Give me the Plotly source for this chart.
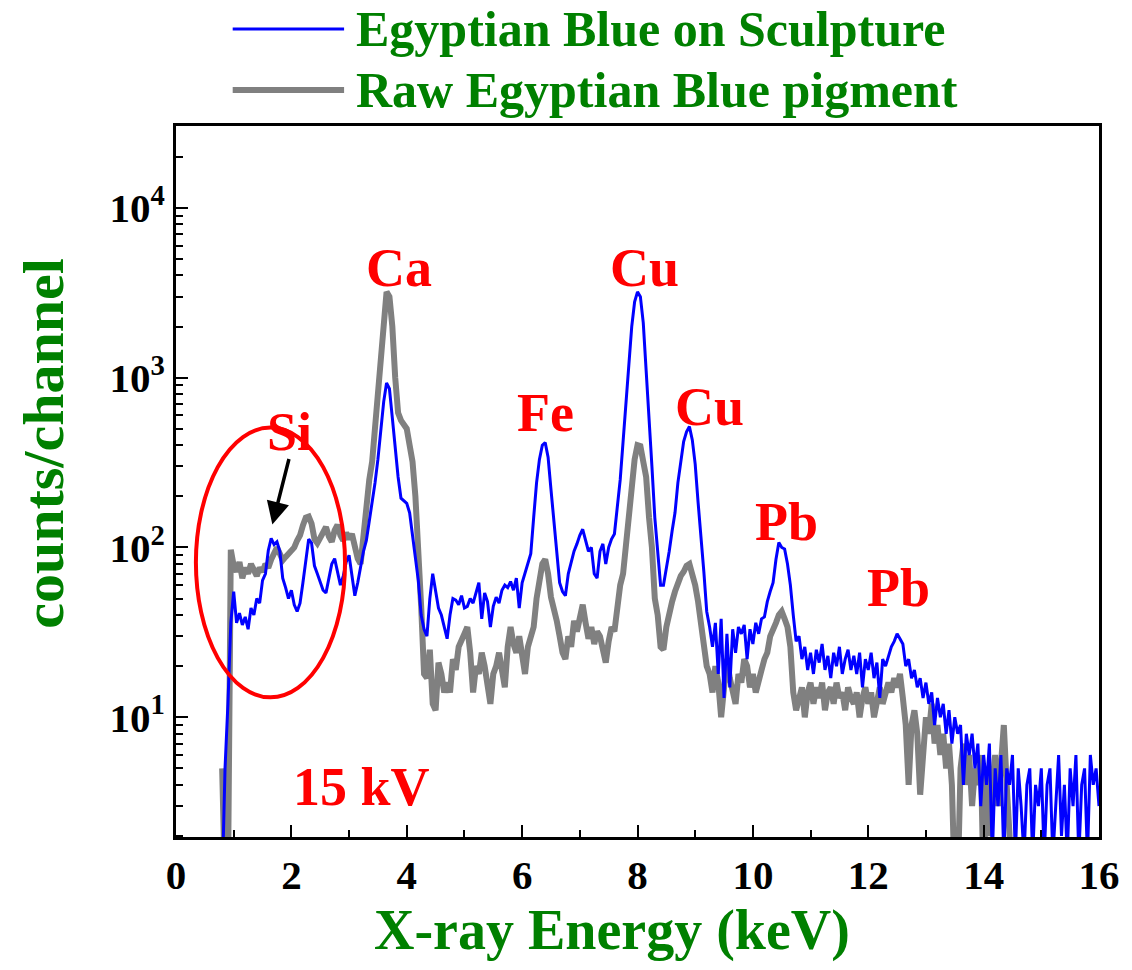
import numpy as np
import plotly.graph_objects as go

# Channel energies of the spectra (keV)
energy_start_kev = 0.80
energy_step_kev = 0.05

# Counts per channel, Egyptian Blue on the sculpture (1 keV per row)
sculpture_counts = [
    1, 5, 12, 36, 55, 36, 41, 35, 39, 33, 44, 40, 50, 47, 64, 70, 96, 113, 104, 108,
    95, 66, 58, 50, 56, 46, 42, 47, 62, 82, 112, 106, 78, 70, 62, 56, 54, 66, 80, 86,
    72, 60, 68, 82, 90, 70, 52, 62, 76, 95, 110, 140, 185, 240, 330, 480, 720, 930, 860, 580,
    390, 260, 195, 188, 182, 160, 120, 90, 64, 40, 33, 30, 50, 70, 55, 44, 40, 34, 29, 40,
    50, 49, 46, 52, 44, 45, 50, 47, 55, 62, 38, 54, 48, 34, 45, 51, 47, 56, 60, 58,
    63, 56, 66, 44, 62, 70, 80, 92, 150, 240, 330, 400, 415, 340, 220, 140, 95, 62, 55, 52,
    70, 82, 95, 105, 118, 128, 112, 95, 100, 70, 66, 95, 105, 80, 100, 112, 120, 170, 250, 420,
    700, 1200, 2000, 2800, 3200, 3000, 2100, 1100, 600, 300, 150, 90, 60, 60, 75, 95, 125, 160, 240, 330,
    420, 480, 515, 430, 310, 185, 120, 72, 42, 34, 26, 36, 18, 38, 13, 31, 15, 33, 24, 34,
    31, 35, 22, 33, 27, 36, 31, 38, 39, 48, 55, 62, 85, 107, 100, 98, 80, 60, 40, 28,
    30, 22, 26, 19, 24, 18, 25, 21, 27, 19, 23, 17, 24, 20, 26, 18, 22, 25, 19, 23,
    18, 24, 15, 22, 19, 24, 17, 21, 13, 22, 20, 23, 26, 28, 31, 29, 27, 20, 22, 17,
    19, 15, 17, 13, 16, 12, 14, 9, 13, 10, 12, 8, 11, 7, 10, 8, 9, 4, 8, 6,
    8, 5, 7, 3, 6, 4, 7, 1.5, 5, 3, 6, 1.5, 5, 4, 6, 1.5, 5, 3, 1.5, 4,
    5, 1.5, 4, 3, 5, 1.5, 4, 5, 1.5, 3, 6, 2, 4, 1.5, 5, 3, 6, 1.5, 4, 5,
    1.5, 6, 4, 5, 3,
]

# Counts per channel, raw Egyptian Blue pigment (1 keV per row)
raw_pigment_counts = [
    5, 1, 1, 97, 78, 72, 82, 66, 76, 70, 80, 72, 68, 76, 72, 80, 76, 85, 95, 100,
    92, 84, 88, 92, 96, 100, 110, 118, 135, 150, 152, 138, 112, 106, 114, 124, 132, 116, 108, 126,
    136, 118, 110, 122, 112, 120, 98, 86, 80, 120, 170, 250, 320, 520, 850, 1500, 2400, 3200, 3000, 2000,
    1000, 620, 560, 530, 500, 400, 320, 200, 110, 45, 18, 17, 25, 12, 11, 21, 18, 14, 16, 14,
    22, 19, 26, 28, 31, 34, 24, 14, 20, 18, 24, 20, 16, 12, 18, 20, 24, 19, 15, 26,
    34, 27, 24, 30, 22, 18, 26, 30, 34, 50, 65, 80, 85, 70, 51, 44, 37, 30, 24, 22,
    30, 26, 37, 32, 40, 46, 36, 29, 34, 27, 32, 30, 25, 21, 28, 34, 32, 45, 60, 70,
    100, 150, 240, 330, 400, 395, 320, 260, 150, 100, 50, 40, 26, 25, 34, 42, 48, 55, 62, 68,
    72, 78, 80, 70, 60, 48, 35, 26, 20, 18, 14, 20, 16, 10, 14, 22, 17, 14, 12, 18,
    16, 22, 20, 15, 18, 14, 17, 19, 22, 24, 30, 34, 36, 40, 42, 38, 34, 26, 14, 11,
    13, 15, 10, 14, 16, 12, 15, 13, 16, 11, 14, 15, 12, 16, 13, 14, 11, 15, 13, 12,
    14, 10, 13, 15, 12, 14, 10, 13, 15, 12, 14, 16, 14, 17, 15, 18, 13, 9, 4, 9,
    11, 8, 3.5, 7, 10, 8, 12, 7, 9, 6, 8, 5, 7, 4, 1, 1, 5, 7, 4, 6,
    3, 5, 4, 6, 1, 5, 2, 4, 6, 3, 5, 9, 4, 2, 1, None, None, None, None, None,
    None, None, None, None, None, None, None, None, None, None,
    None, None, None, None, None, None, None, None, None, None,
    None, None, None, None, None,
]

series_names = ["Egyptian Blue on Sculpture", "Raw Egyptian Blue pigment"]

# Element lines marked on the spectrum
peak_labels = ["Si", "Ca", "Fe", "Cu", "Cu", "Pb", "Pb"]
peak_label_kev = [1.97, 3.86, 6.40, 8.12, 9.24, 10.59, 12.52]
peak_label_counts = [480, 4450, 620, 4450, 670, 142, 58]

x_ticks = [0, 2, 4, 6, 8, 10, 12, 14, 16]
y_ticks = [10, 100, 1000, 10000]
y_tick_text = ["10<sup>1</sup>", "10<sup>2</sup>", "10<sup>3</sup>", "10<sup>4</sup>"]
y_minor = [m * 10 ** d for d in range(0, 5) for m in range(2, 10)]

energy = np.round(energy_start_kev + energy_step_kev * np.arange(len(sculpture_counts)), 2)

SERIF = "Liberation Serif"
BLUE = "#0000FF"
GREY = "#808080"
GREEN = "#008000"
RED = "#FF0000"

fig = go.Figure()
fig.add_trace(go.Scatter(x=energy, y=raw_pigment_counts, mode="lines",
                         line=dict(color=GREY, width=6), name=series_names[1],
                         connectgaps=False, showlegend=False))
fig.add_trace(go.Scatter(x=energy, y=sculpture_counts, mode="lines",
                         line=dict(color=BLUE, width=3), name=series_names[0],
                         showlegend=False))

label_font = dict(family=SERIF, size=54, color=RED, weight="bold")
annotations = []
for txt, xk, yc in zip(peak_labels, peak_label_kev, peak_label_counts):
    annotations.append(dict(x=xk, y=np.log10(yc), xref="x", yref="y", text=txt,
                            showarrow=False, xanchor="center", yanchor="middle",
                            font=label_font))

annotations.append(dict(x=3.21, y=np.log10(3.9), xref="x", yref="y", text="15 kV",
                        showarrow=False, xanchor="center", yanchor="middle",
                        font=label_font))

# arrow pointing to the Si shoulder
annotations.append(dict(x=1.67, y=2.135, xref="x", yref="y", text="",
                        showarrow=True, arrowhead=2, arrowsize=1.3, arrowwidth=3.5,
                        arrowcolor="black", ax=17, ay=-67))

# axis titles
annotations.append(dict(x=0.472, y=-0.131, xref="paper", yref="paper",
                        text="X-ray Energy (keV)", showarrow=False,
                        xanchor="center", yanchor="middle",
                        font=dict(family=SERIF, size=56, color=GREEN, weight="bold")))
annotations.append(dict(x=-0.1444, y=0.554, xref="paper", yref="paper",
                        text="counts/channel", showarrow=False, textangle=-90,
                        xanchor="center", yanchor="middle",
                        font=dict(family=SERIF, size=58, color=GREEN, weight="bold")))

# legend drawn as line samples plus labels above the frame
legend_rows = [(BLUE, 3, series_names[0], 29), (GREY, 6, series_names[1], 90)]
shapes = []
for color, width, label, py in legend_rows:
    ypap = (837 - py) / 711
    shapes.append(dict(type="line", xref="paper", yref="paper",
                       x0=(233 - 176) / 928, x1=(345 - 176) / 928, y0=ypap, y1=ypap,
                       line=dict(color=color, width=width)))
    annotations.append(dict(x=(355 - 176) / 928, y=ypap, xref="paper", yref="paper",
                            text=label, showarrow=False, xanchor="left", yanchor="middle",
                            font=dict(family=SERIF, size=50, color=GREEN, weight="bold")))

# red ellipse around the Si region
shapes.append(dict(type="circle", xref="x", yref="y", x0=0.345, x1=2.93,
                   y0=13.1, y1=508, line=dict(color=RED, width=4)))

fig.update_layout(
    width=1132, height=970,
    margin=dict(l=176, r=28, t=126, b=133),
    paper_bgcolor="white", plot_bgcolor="white",
    showlegend=False,
    shapes=shapes, annotations=annotations,
    xaxis=dict(range=[0, 16], tickvals=x_ticks, ticks="inside", ticklen=12,
               tickwidth=2, tickcolor="black", showline=True, linewidth=3,
               linecolor="black", mirror=True, showgrid=False, zeroline=False,
               tickfont=dict(family=SERIF, size=41, color="black", weight="bold"),
               minor=dict(tickvals=[1, 3, 5, 7, 9, 11, 13, 15], ticks="inside",
                          ticklen=7, tickwidth=2, tickcolor="black", showgrid=False)),
    yaxis=dict(type="log", range=[0.295, 4.482], tickvals=y_ticks, ticktext=y_tick_text,
               ticks="inside", ticklen=12, tickwidth=2, tickcolor="black",
               showline=True, linewidth=3, linecolor="black", mirror=True,
               showgrid=False, zeroline=False,
               tickfont=dict(family=SERIF, size=41, color="black", weight="bold"),
               minor=dict(tickvals=y_minor, ticks="inside", ticklen=7, tickwidth=2,
                          tickcolor="black", showgrid=False)),
)

fig.write_html("out.html")
